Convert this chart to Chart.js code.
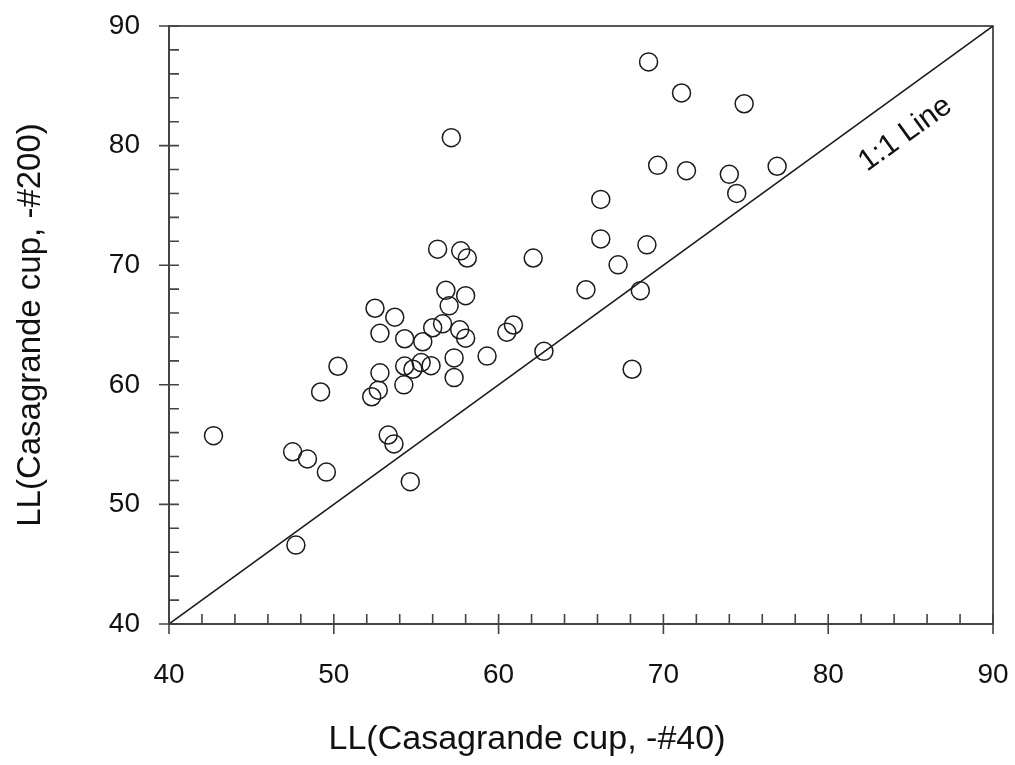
<!DOCTYPE html>
<html>
<head>
<meta charset="utf-8">
<script src="https://cdn.jsdelivr.net/npm/chart.js@4.4.1/dist/chart.umd.min.js"></script>
<style>
html,body{margin:0;padding:0;background:#fff;}
#wrap{width:1015px;height:765px;}
</style>
</head>
<body>
<div id="wrap"><canvas id="myChart" width="1015" height="765"></canvas></div>
<script>
// LL con cuchara Casagrande, material pasante #40 vs pasante #200
var llNo40 = [42.7,47.5,48.4,49.55,47.7,49.2,50.25,52.3,52.7,52.8,52.5,52.8,53.7,53.3,53.65,54.64,54.25,54.3,54.3,54.8,
	55.3,55.4,55.9,56.0,56.6,56.3,56.8,57.0,57.13,57.3,57.3,57.64,58.0,57.7,58.1,58.0,59.3,60.5,60.9,62.1,
	62.75,65.3,66.2,66.2,67.25,68.6,68.1,69.0,69.1,69.65,71.1,71.4,74.0,74.45,74.9,76.9];
var llNo200 = [55.75,54.4,53.8,52.7,46.6,59.4,61.55,59.0,59.55,61.0,66.4,64.3,65.65,55.8,55.06,51.9,60.0,61.57,63.85,61.3,
	61.86,63.6,61.6,64.77,65.1,71.34,67.9,66.6,80.66,62.25,60.6,64.6,63.9,71.2,70.6,67.45,62.4,64.4,65.0,70.6,
	62.8,67.95,75.5,72.2,70.03,67.87,61.3,71.7,87.0,78.35,84.4,77.9,77.6,76.0,83.5,78.27];
var lineaXY = [40,90];
var ticksX = [40,50,60,70,80,90];
var ticksY = [40,50,60,70,80,90];
var textoLinea = "1:1 Line";
var tituloX = "LL(Casagrande cup, -#40)";
var tituloY = "LL(Casagrande cup, -#200)";

var puntos = new Array();
for(var i = 0;i<llNo40.length;i++){
	puntos.push({x:llNo40[i],y:llNo200[i]});
}
var linea = new Array();
for(var i = 0;i<lineaXY.length;i++){
	linea.push({x:lineaXY[i],y:lineaXY[i]});
}

var fuente = "'Liberation Sans', Arial, Helvetica, sans-serif";

var marcoPlugin = {
	id: 'marco',
	afterDatasetsDraw: function(chart){
		var ctx = chart.ctx;
		var a = chart.chartArea;
		var sx = chart.scales.x, sy = chart.scales.y;
		ctx.save();
		ctx.strokeStyle = '#222';
		ctx.lineWidth = 1.5;
		ctx.beginPath();
		ctx.moveTo(a.left, a.top); ctx.lineTo(a.right, a.top); ctx.lineTo(a.right, a.bottom);
		ctx.stroke();
		ctx.strokeStyle = '#444';
		ctx.lineWidth = 1.6;
		ctx.beginPath();
		for(var v = sx.min;v<=sx.max;v+=2){
			var px = sx.getPixelForValue(v);
			var major = (v % 10 == 0);
			ctx.moveTo(px, a.bottom - 10);
			ctx.lineTo(px, major ? a.bottom + 10 : a.bottom);
		}
		for(var v = sy.min;v<=sy.max;v+=2){
			var py = sy.getPixelForValue(v);
			var major = (v % 10 == 0);
			ctx.moveTo(major ? a.left - 10 : a.left, py);
			ctx.lineTo(a.left + 10, py);
		}
		ctx.stroke();
		// titulo eje x (algo desplazado a la izquierda en el original)
		ctx.fillStyle = '#111';
		ctx.font = "34px " + fuente;
		ctx.textAlign = 'center';
		ctx.textBaseline = 'middle';
		ctx.fillText(tituloX, 527, 740);
		// etiqueta de la recta 1:1
		var p1 = {x:sx.getPixelForValue(lineaXY[0]), y:sy.getPixelForValue(lineaXY[0])};
		var p2 = {x:sx.getPixelForValue(lineaXY[1]), y:sy.getPixelForValue(lineaXY[1])};
		var ang = Math.atan2(p2.y - p1.y, p2.x - p1.x);
		var vPos = 83.4;
		var bx = sx.getPixelForValue(vPos), by = sy.getPixelForValue(vPos);
		var d = 36;
		ctx.translate(bx - Math.sin(ang)*d, by + Math.cos(ang)*d);
		ctx.rotate(ang);
		ctx.font = "30px " + fuente;
		ctx.fillText(textoLinea, 0, 0);
		ctx.restore();
	}
};

new Chart(document.getElementById("myChart"), {
	type: 'scatter',
	data: {
		datasets: [{
			data: puntos,
			borderColor: '#1a1a1a',
			backgroundColor: 'rgba(0,0,0,0)',
			borderWidth: 1.5,
			pointRadius: 9,
			pointHoverRadius: 9
		},{
			data: linea,
			showLine: true,
			borderColor: '#1a1a1a',
			borderWidth: 1.5,
			pointRadius: 0,
			fill: false
		}]
	},
	options: {
		responsive: false,
		animation: false,
		events: [],
		layout: { padding: {left:0, top:26, right:22, bottom:0} },
		plugins: { legend: {display:false}, tooltip: {enabled:false} },
		scales: {
			x: {
				type: 'linear', min: 40, max: 90,
				afterBuildTicks: function(s){ s.ticks = ticksX.map(function(v){return {value:v};}); },
				afterFit: function(s){ s.height = 141; s.paddingLeft = 0; s.paddingRight = 0; },
				grid: { display:false, drawTicks:false },
				border: { display:true, color:'#444', width:2 },
				ticks: { color:'#111', padding:34, font:{size:28, family:fuente} },
				title: { display:false }
			},
			y: {
				type: 'linear', min: 40, max: 90,
				afterBuildTicks: function(s){ s.ticks = ticksY.map(function(v){return {value:v};}); },
				afterFit: function(s){ s.width = 169; s.paddingTop = 0; s.paddingBottom = 0; },
				grid: { display:false, drawTicks:false },
				border: { display:true, color:'#444', width:2 },
				ticks: { color:'#111', padding:29, font:{size:28, family:fuente} },
				title: { display:true, text:tituloY, color:'#111', padding:{top:11,bottom:0}, font:{size:33, family:fuente} }
			}
		}
	},
	plugins: [marcoPlugin]
});
</script>
</body>
</html>
